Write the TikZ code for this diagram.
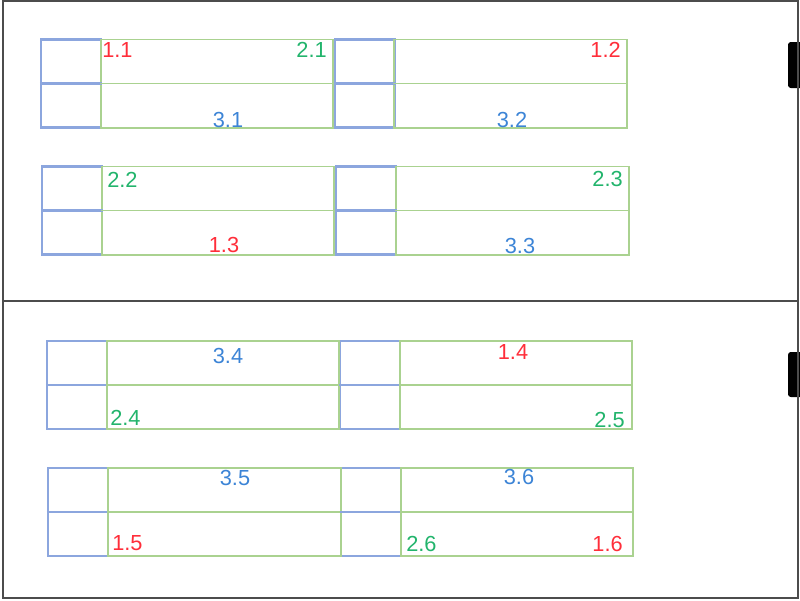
\documentclass[tikz,border=0pt]{standalone}
\usepackage{fontspec}
\setmainfont{Liberation Sans}
\definecolor{boxblue}{HTML}{8CA6DE}
\definecolor{boxgreen}{HTML}{AAD290}
\definecolor{lblred}{HTML}{FF2E3A}
\definecolor{lblgreen}{HTML}{22B46C}
\definecolor{lblblue}{HTML}{3C84D6}
\tikzset{
  seat/.style={rectangle,draw=boxblue,line width=1.6pt,minimum width=1.5cm,minimum height=2.2cm,inner sep=0pt},
  desk/.style={rectangle,draw=boxgreen,line width=1.4pt,minimum width=5.8cm,minimum height=2.2cm,inner sep=0pt},
  lbl/.style={inner sep=0pt,font=\fontsize{15.5}{18}\selectfont}
}
\begin{document}
\begin{tikzpicture}[x=0.025cm,y=-0.025cm]

      \useasboundingbox (0,0) rectangle (800,600);

      % tabs on the right edge
      \fill[black,rounded corners=2pt] (788,42) rectangle (806,88);
      \fill[black,rounded corners=2pt] (788,352) rectangle (806,397);

      % frame and divider
      \draw[gray!60!black,line width=1.2pt] (3,1) rectangle (798,598);
      \coordinate (divl) at (3,301);
      \coordinate (divr) at (798,301);
      \draw[gray!60!black,line width=1.2pt] (divl) -- (divr);

      \begin{scope}[every node/.style={seat}]
        \node (s1) at (71,83.5)  {};
        \node (s2) at (365,83.5) {};
        \node (s3) at (72,210.5) {};
        \node (s4) at (366,210.5) {};
        \node (s5) at (77,385)   {};
        \node (s6) at (370,385)  {};
        \node (s7) at (78,512)   {};
        \node (s8) at (371,512)  {};
      \end{scope}

      \begin{scope}[every node/.style={desk}]
        \node (d1) at (217,83.5)   {};
        \node (d2) at (510.5,83.5) {};
        \node (d3) at (218,210.5)  {};
        \node (d4) at (512.5,210.5) {};
        \node (d5) at (223,385)    {};
        \node (d6) at (516,385)    {};
        \node (d7) at (224.5,512)  {};
        \node (d8) at (517,512)    {};
      \end{scope}

      \foreach \n in {1,...,8} {
        \draw[boxblue,line width=1.6pt] (s\n.west) -- (s\n.east);
        \draw[boxgreen,line width=1.4pt] (d\n.west) -- (d\n.east);
      }

      \begin{scope}[every node/.style={lbl}]
        \node[lblred,anchor=base west]   (l11) at (102,57)  {1.1};
        \node[lblgreen,anchor=base east] (l21) at (327,57)  {2.1};
        \node[lblblue,anchor=base]       (l31) at (228,127) {3.1};
        \node[lblred,anchor=base east]   (l12) at (621,57)  {1.2};
        \node[lblblue,anchor=base]       (l32) at (512,127) {3.2};
        \node[lblgreen,anchor=base west] (l22) at (107,187) {2.2};
        \node[lblred,anchor=base]        (l13) at (224,252) {1.3};
        \node[lblgreen,anchor=base east] (l23) at (623,186) {2.3};
        \node[lblblue,anchor=base]       (l33) at (520,253) {3.3};
        \node[lblblue,anchor=base]       (l34) at (228,363) {3.4};
        \node[lblgreen,anchor=base west] (l24) at (110,425) {2.4};
        \node[lblred,anchor=base]        (l14) at (513,359) {1.4};
        \node[lblgreen,anchor=base east] (l25) at (625,427) {2.5};
        \node[lblblue,anchor=base]       (l35) at (235,485) {3.5};
        \node[lblred,anchor=base west]   (l15) at (112,550) {1.5};
        \node[lblblue,anchor=base]       (l36) at (519,484) {3.6};
        \node[lblgreen,anchor=base west] (l26) at (406,551) {2.6};
        \node[lblred,anchor=base east]   (l16) at (623,551) {1.6};
      \end{scope}

    \end{tikzpicture}
\end{document}
